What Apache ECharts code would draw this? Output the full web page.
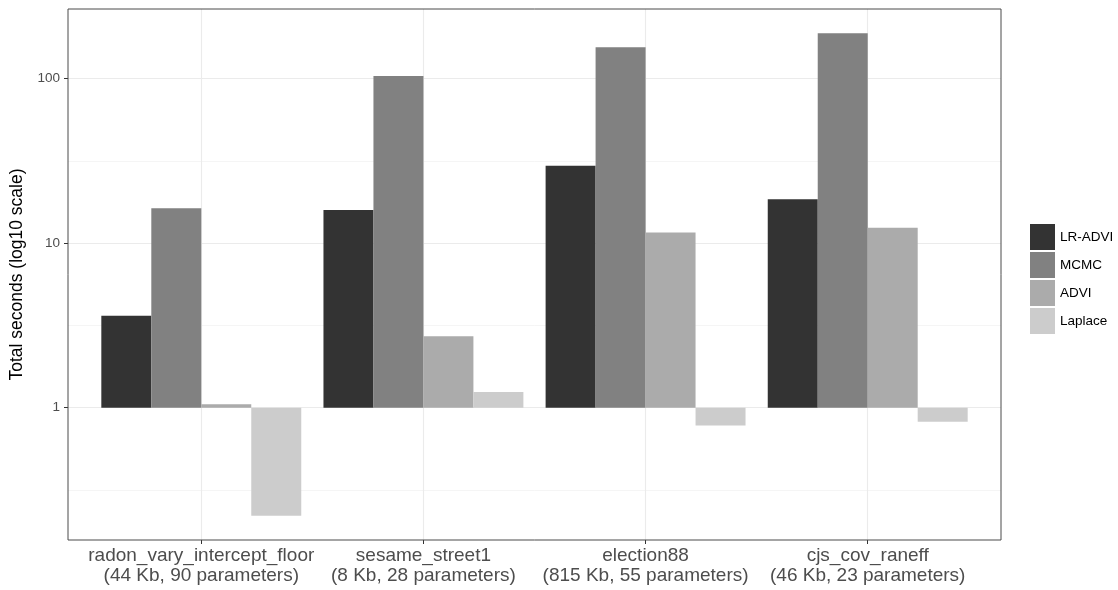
<!DOCTYPE html>
<html>
<head>
<meta charset="utf-8">
<script src="https://cdn.jsdelivr.net/npm/echarts@6/dist/echarts.min.js"></script>
<style>
  html, body { margin: 0; padding: 0; background: #ffffff; }
  #chart { width: 1118px; height: 590px; }
</style>
</head>
<body>
<div id="chart"></div>
<script>
// ---- data ----
const categories = ['radon_vary_intercept_floor', 'sesame_street1', 'election88', 'cjs_cov_raneff'];
const categoryDetails = ['(44 Kb, 90 parameters)', '(8 Kb, 28 parameters)', '(815 Kb, 55 parameters)', '(46 Kb, 23 parameters)'];
const seriesNames = ['LR-ADVI', 'MCMC', 'ADVI', 'Laplace'];
const lrAdvi  = [3.62, 15.9, 29.5, 18.5];
const mcmc    = [16.3, 103.7, 155, 189];
const advi    = [1.05, 2.72, 11.6, 12.4];
const laplace = [0.22, 1.245, 0.778, 0.822];
const yMajorTicks = [1, 10, 100];
const yMinorTicks = [0.316, 3.16, 31.6];
const seriesColors = ['#333333', '#818181', '#ababab', '#cccccc'];

// ---- layout ----
const gridLeft = 68, gridTop = 9, gridWidth = 933, gridHeight = 531;
const xMin = 0.4, xMax = 4.6;
const barW = gridWidth * 0.225 / (xMax - xMin);

const allVals = [].concat(lrAdvi, mcmc, advi, laplace).map(v => Math.log10(v));
const dMin = Math.min.apply(null, allVals), dMax = Math.max.apply(null, allVals);
const pad = (dMax - dMin) * 0.05;
const yMin = dMin - pad, yMax = dMax + pad;

const valueSets = [lrAdvi, mcmc, advi, laplace];
const catPositions = categories.map((c, i) => i + 1);

const gridMajor = { color: '#ebebeb', width: 1.1, type: 'solid' };
const gridMinor = { color: '#f2f2f2', width: 0.8, type: 'solid' };

const markLineData = []
  .concat(yMajorTicks.map(v => ({ yAxis: Math.log10(v), lineStyle: gridMajor })))
  .concat(yMinorTicks.map(v => ({ yAxis: Math.log10(v), lineStyle: gridMinor })))
  .concat(catPositions.map(x => ({ xAxis: x, lineStyle: gridMajor })));

const series = valueSets.map((vals, si) => ({
  name: seriesNames[si],
  type: 'bar',
  z: 2,
  barWidth: barW,
  barGap: '0%',
  itemStyle: { color: seriesColors[si] },
  data: vals.map((v, i) => [catPositions[i], Math.log10(v)])
}));

// gridlines carried by an empty helper series (so no bar offset applies)
series.unshift({
  name: 'gridlines',
  type: 'line',
  z: 1,
  data: [],
  silent: true,
  markLine: {
    silent: true,
    z: 1,
    symbol: ['none', 'none'],
    label: { show: false },
    emphasis: { disabled: true },
    data: markLineData
  }
});

const chart = echarts.init(document.getElementById('chart'), null, { renderer: 'canvas' });
chart.setOption({
  animation: false,
  backgroundColor: '#ffffff',
  textStyle: { fontFamily: 'Liberation Sans, Arial, sans-serif' },
  grid: {
    left: gridLeft, top: gridTop, width: gridWidth, height: gridHeight,
    show: true, z: 10, backgroundColor: 'transparent',
    borderColor: '#4a4a4a', borderWidth: 1
  },
  legend: {
    orient: 'vertical',
    left: 1030, top: 224,
    padding: 0,
    itemWidth: 25, itemHeight: 26, itemGap: 2,
    icon: 'rect',
    data: seriesNames,
    textStyle: { color: '#000000', fontSize: 13.5, fontFamily: 'Liberation Sans, Arial, sans-serif' },
    itemStyle: { borderWidth: 0 }
  },
  xAxis: {
    type: 'value',
    min: xMin, max: xMax,
    axisLine: { show: false, onZero: false },
    splitLine: { show: false },
    axisTick: { show: true, length: 4, lineStyle: { color: '#333333' }, customValues: catPositions },
    axisLabel: {
      customValues: catPositions,
      margin: 6,
      color: '#4d4d4d',
      fontSize: 19,
      lineHeight: 20,
      fontFamily: 'Liberation Sans, Arial, sans-serif',
      formatter: v => {
        const i = Math.round(v) - 1;
        return categories[i] + '\n' + categoryDetails[i];
      }
    }
  },
  yAxis: {
    type: 'value',
    min: yMin, max: yMax,
    name: 'Total seconds (log10 scale)',
    nameLocation: 'middle',
    nameGap: 41,
    nameTextStyle: { color: '#000000', fontSize: 17.5, fontFamily: 'Liberation Sans, Arial, sans-serif' },
    axisLine: { show: false, onZero: false },
    splitLine: { show: false },
    axisTick: { show: true, length: 4, lineStyle: { color: '#333333' }, customValues: yMajorTicks.map(v => Math.log10(v)) },
    axisLabel: {
      customValues: yMajorTicks.map(v => Math.log10(v)),
      margin: 8,
      color: '#4d4d4d',
      fontSize: 13.5,
      fontFamily: 'Liberation Sans, Arial, sans-serif',
      formatter: v => String(Math.round(Math.pow(10, v)))
    }
  },
  series: series
});
</script>
</body>
</html>
